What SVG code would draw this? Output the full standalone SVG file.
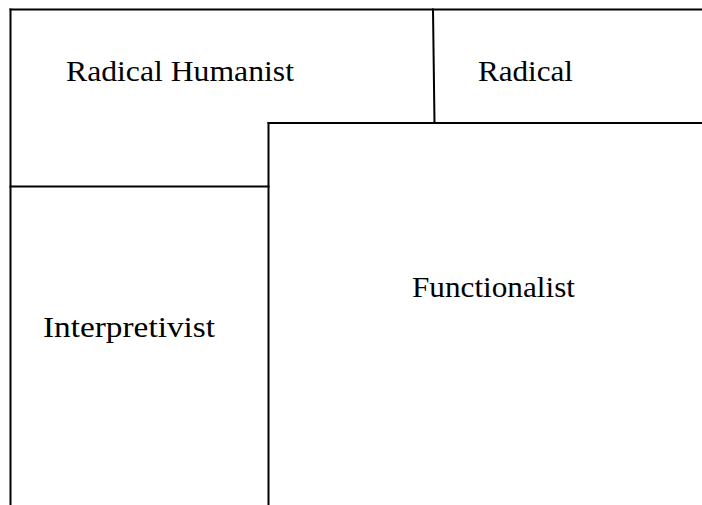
<svg xmlns="http://www.w3.org/2000/svg" width="702" height="505" viewBox="0 0 702 505">
  <style>
    .edge { stroke: #000; stroke-width: 2; fill: none; stroke-linecap: square; }
    .label { font-family: "Liberation Serif", "Times New Roman", serif; font-size: 30px; fill: #000; }
  </style>
  <rect width="702" height="505" fill="#fff"/>
  <!-- outer frame: top edge and left edge -->
  <g id="frame">
    <line class="edge" x1="10.5" y1="9.5" x2="702" y2="9.5"/>
    <line class="edge" x1="10.5" y1="9.5" x2="10.5" y2="505"/>
  </g>
  <g id="radical-humanist">
    <text class="label" x="66" y="81" textLength="228" lengthAdjust="spacingAndGlyphs">Radical Humanist</text>
  </g>
  <g id="radical">
    <line class="edge" x1="433" y1="9.5" x2="434.5" y2="123"/>
    <text class="label" x="478" y="81" textLength="95" lengthAdjust="spacingAndGlyphs">Radical</text>
  </g>
  <g id="interpretivist">
    <line class="edge" x1="10.5" y1="186.5" x2="268.5" y2="186.5"/>
    <text class="label" x="43" y="337" textLength="172" lengthAdjust="spacingAndGlyphs">Interpretivist</text>
  </g>
  <g id="functionalist">
    <line class="edge" x1="268.5" y1="123" x2="702" y2="123"/>
    <line class="edge" x1="268.5" y1="123" x2="268.5" y2="505"/>
    <text class="label" x="412" y="297" textLength="163" lengthAdjust="spacingAndGlyphs">Functionalist</text>
  </g>
</svg>
